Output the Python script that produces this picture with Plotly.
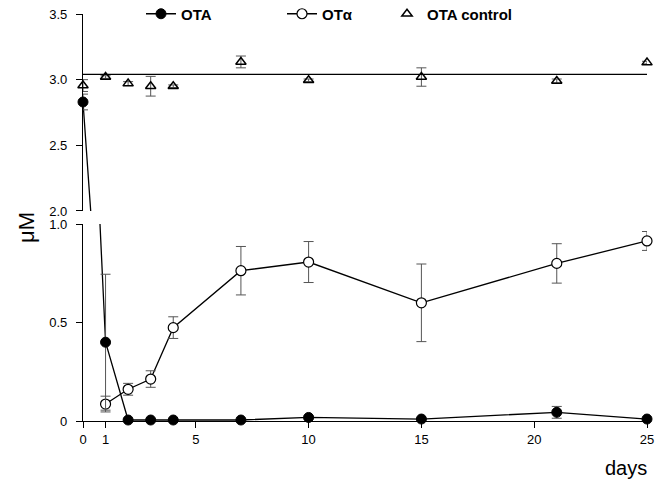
import plotly.graph_objects as go

# ---------------- data ----------------
days_ota = [0, 1, 2, 3, 4, 7, 10, 15, 21, 25]
ota = [2.83, 0.40, 0.005, 0.005, 0.005, 0.005, 0.018, 0.010, 0.044, 0.010]
ota_err = [0.06, 0.345, 0.004, 0.004, 0.004, 0.004, 0.008, 0.004, 0.03, 0.005]

days_alpha = [1, 2, 3, 4, 7, 10, 15, 21, 25]
ota_alpha = [0.086, 0.161, 0.213, 0.474, 0.763, 0.807, 0.600, 0.800, 0.914]
alpha_err = [0.04, 0.03, 0.042, 0.055, 0.123, 0.104, 0.197, 0.10, 0.048]

days_ctrl = [0, 1, 2, 3, 4, 7, 10, 15, 21, 25]
ctrl = [2.955, 3.02, 2.97, 2.95, 2.95, 3.135, 2.995, 3.02, 2.99, 3.13]
ctrl_err = [0.045, 0.01, 0.015, 0.075, 0.01, 0.045, 0.01, 0.07, 0.015, 0.01]

control_level = 3.04

x_ticks = [0, 1, 5, 10, 15, 20, 25]
low_ticks = [0, 0.5, 1.0]
low_ticktext = ["0", "0.5", "1.0"]
up_ticks = [2.0, 2.5, 3.0, 3.5]
up_ticktext = ["2.0", "2.5", "3.0", "3.5"]

LOW_RANGE = [0, 1.0]
UP_RANGE = [2.0, 3.5]

FONT = "Liberation Sans, Arial, sans-serif"
ERRCOL = "#555555"

fig = go.Figure()


def subset(xs, ys, es, rng):
    sx, sy, se = [], [], []
    for a, b, c in zip(xs, ys, es):
        if rng[0] <= b <= rng[1]:
            sx.append(a)
            sy.append(b)
            se.append(c)
    return sx, sy, se


def add_series(xs, ys, es, marker, with_line, name, legend):
    for yax, rng in (("y", LOW_RANGE), ("y2", UP_RANGE)):
        if with_line:
            fig.add_trace(go.Scatter(x=xs, y=ys, yaxis=yax, mode="lines",
                                     line=dict(color="black", width=1.3),
                                     showlegend=False, hoverinfo="skip"))
        sx, sy, se = subset(xs, ys, es, rng)
        if sx:
            fig.add_trace(go.Scatter(
                x=sx, y=sy, yaxis=yax, mode="markers", marker=marker,
                error_y=dict(type="data", array=se, visible=True,
                             color=ERRCOL, thickness=1, width=5),
                cliponaxis=False, showlegend=False, name=name))
    # legend-only entry
    fig.add_trace(go.Scatter(x=[None], y=[None],
                             mode="lines+markers" if with_line else "markers",
                             marker=marker, line=dict(color="black", width=1.3),
                             name=name, legend=legend, showlegend=True))


add_series(days_ctrl, ctrl, ctrl_err,
           dict(symbol="triangle-up-open", size=9, color="black",
                line=dict(width=1.5, color="black")),
           False, "OTA control", "legend3")
add_series(days_alpha, ota_alpha, alpha_err,
           dict(symbol="circle", size=10, color="white",
                line=dict(width=1.2, color="black")),
           True, "OTα", "legend2")
add_series(days_ota, ota, ota_err,
           dict(symbol="circle", size=10, color="black",
                line=dict(width=1, color="black")),
           True, "OTA", "legend")

# control reference level
fig.add_shape(type="line", xref="x domain", yref="y2", x0=0, x1=1,
              y0=control_level, y1=control_level,
              line=dict(color="black", width=1.3))

axis_common = dict(showline=True, linecolor="black", linewidth=1.3,
                   ticks="outside", ticklen=6, tickwidth=1.2, tickcolor="black",
                   showgrid=False, zeroline=False, ticklabeloverflow="allow",
                   tickfont=dict(family=FONT, size=13, color="black"))

legend_common = dict(orientation="h", yanchor="middle", y=1.0, xanchor="left",
                     bgcolor="rgba(0,0,0,0)", borderwidth=0,
                     font=dict(family=FONT, size=15, color="black", weight="bold"))

# plot area: 564 x 407 px
fig.update_layout(
    width=666, height=481,
    margin=dict(l=83, r=19, t=14, b=60, autoexpand=False),
    plot_bgcolor="white", paper_bgcolor="white",
    xaxis=dict(range=[0, 25], tickvals=x_ticks, anchor="y", **axis_common),
    yaxis=dict(domain=[0, 0.484], range=LOW_RANGE, tickvals=low_ticks,
               ticktext=low_ticktext, ticklabelstandoff=6, **axis_common),
    yaxis2=dict(domain=[0.516, 1], range=UP_RANGE, tickvals=up_ticks,
                ticktext=up_ticktext, anchor="x", ticklabelstandoff=6, **axis_common),
    legend=dict(x=(141 - 83) / 564, **legend_common),
    legend2=dict(x=(282 - 83) / 564, **legend_common),
    legend3=dict(x=(387 - 83) / 564, **legend_common),
    showlegend=True,
    annotations=[
        dict(text="μM", xref="paper", yref="paper", x=(26 - 83) / 564,
             y=(421 - 228) / 407, textangle=-90, showarrow=False,
             xanchor="center", yanchor="middle",
             font=dict(family=FONT, size=22, color="black")),
        dict(text="days", xref="paper", yref="paper", x=(626 - 83) / 564,
             y=(421 - 468) / 407, showarrow=False,
             xanchor="center", yanchor="middle",
             font=dict(family=FONT, size=20, color="black")),
    ],
)

fig.write_html("out.html",
               config={"displayModeBar": False},
               post_script="document.body.style.margin='0';document.body.style.overflow='hidden';")
